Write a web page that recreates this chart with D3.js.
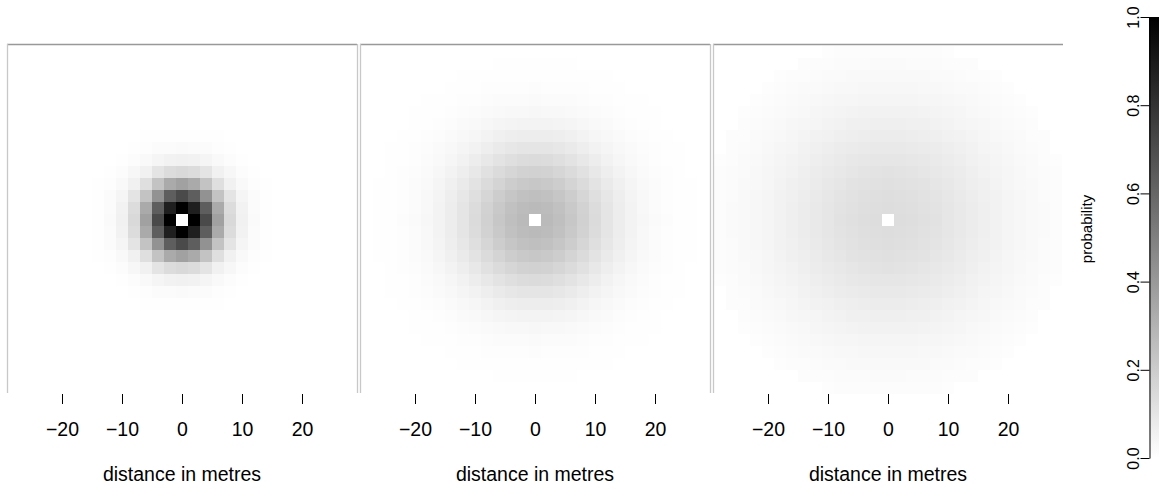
<!DOCTYPE html>
<html>
<head>
<meta charset="utf-8">
<script src="https://cdn.jsdelivr.net/npm/d3@7"></script>
<style>
body { margin:0; background:#fff; }
svg text { font-family: "Liberation Sans", Arial, sans-serif; fill:#000; }
</style>
</head>
<body>
<div id="chart"></div>
<script>
// ring distances (metres) and probability read along the centre row of each panel
var ringDist = [0, 2, 4, 6, 8, 10, 12, 14, 16, 18, 20, 22, 24, 26, 28, 30];
var probNarrow = [1.0, 1.0, 0.71, 0.37, 0.15, 0.055, 0.018, 0.005, 0.001, 0, 0, 0, 0, 0, 0, 0];
var probMid = [0.28, 0.272, 0.251, 0.218, 0.18, 0.14, 0.103, 0.072, 0.048, 0.03, 0.018, 0.01, 0.005, 0.0026, 0.0012, 0.0005];
var probWide = [0.135, 0.133, 0.129, 0.121, 0.112, 0.1, 0.088, 0.076, 0.063, 0.052, 0.041, 0.032, 0.025, 0.018, 0.013, 0.009];
var cellCentres = [-28,-26,-24,-22,-20,-18,-16,-14,-12,-10,-8,-6,-4,-2,0,2,4,6,8,10,12,14,16,18,20,22,24,26,28];
var xTicks = [-20, -10, 0, 10, 20];
var legendTicks = [0, 0.2, 0.4, 0.6, 0.8, 1.0];
var cellSize = 2;
var maskRadius = 30;

var w = 1159, h = 489;
var panelW = 350;
var panelLefts = [7, 360, 713];
var panelTop = 45, panelBottom = 395;
var profiles = [probNarrow, probMid, probWide];

var svg = d3.select("#chart").append("svg")
  .attr("width", w)
  .attr("height", h);

var grey = d3.scaleLinear().domain([0, 1]).range(["#ffffff", "#000000"]).clamp(true);
var half = panelW / 12; // metres either side of the centre

profiles.forEach(function(prof, k) {
  var x0 = panelLefts[k];
  var xScale = d3.scaleLinear().domain([-half, half]).range([x0, x0 + panelW]);
  var yScale = d3.scaleLinear().domain([half, -half]).range([panelTop, panelBottom]);
  var ring = d3.scaleLinear().domain(ringDist).range(prof).clamp(true);

  var cells = [];
  cellCentres.forEach(function(cx) {
    cellCentres.forEach(function(cy) {
      var d = Math.sqrt(cx * cx + cy * cy);
      if (d > maskRadius) return;
      cells.push({x: cx, y: cy, p: d === 0 ? null : ring(d)});
    });
  });

  var cw = xScale(cellSize) - xScale(0);
  var g = svg.append("g");
  g.selectAll("rect")
    .data(cells)
    .enter()
    .append("rect")
    .attr("x", function(d) { return xScale(d.x - cellSize / 2); })
    .attr("y", function(d) { return yScale(d.y + cellSize / 2); })
    .attr("width", cw)
    .attr("height", cw)
    .attr("fill", function(d) { return d.p === null ? "#ffffff" : grey(d.p); })
    .attr("shape-rendering", "crispEdges");

  // frame bits
  g.append("line")
    .attr("x1", x0).attr("x2", x0 + panelW)
    .attr("y1", 44.5).attr("y2", 44.5)
    .attr("stroke", "#999").attr("stroke-width", 1.3);
  g.append("line")
    .attr("x1", x0 + 0.5).attr("x2", x0 + 0.5)
    .attr("y1", 44).attr("y2", 393)
    .attr("stroke", "#c8c8c8").attr("stroke-width", 1.3);
  if (k < 2) {
    g.append("line")
      .attr("x1", x0 + panelW + 0.5).attr("x2", x0 + panelW + 0.5)
      .attr("y1", 44).attr("y2", 393)
      .attr("stroke", "#c8c8c8").attr("stroke-width", 1.3);
  }

  var xAxis = d3.axisBottom(xScale)
    .tickValues(xTicks)
    .tickSize(10)
    .tickPadding(18)
    .tickFormat(function(v) { return v < 0 ? "\u2212" + Math.abs(v) : v; });
  var ax = svg.append("g")
    .attr("transform", "translate(0," + 394 + ")")
    .call(xAxis);
  ax.select(".domain").remove();
  ax.selectAll("line").attr("stroke", "#000");
  ax.selectAll("text").attr("font-size", 19.5).attr("font-family", "Liberation Sans, Arial, sans-serif");

  svg.append("text")
    .text("distance in metres")
    .attr("x", xScale(0))
    .attr("y", 481)
    .attr("text-anchor", "middle")
    .attr("font-size", 19.5);
});

// colour legend
var defs = svg.append("defs");
var grad = defs.append("linearGradient")
  .attr("id", "bar")
  .attr("x1", 0).attr("x2", 0).attr("y1", 1).attr("y2", 0);
grad.append("stop").attr("offset", 0).attr("stop-color", grey(0));
grad.append("stop").attr("offset", 1).attr("stop-color", grey(1));

var legScale = d3.scaleLinear().domain([0, 1]).range([458, 17]);
svg.append("rect")
  .attr("x", 1149)
  .attr("y", legScale(1))
  .attr("width", 14)
  .attr("height", legScale(0) - legScale(1))
  .attr("fill", "url(#bar)");

var legAxis = d3.axisLeft(legScale)
  .tickValues(legendTicks)
  .tickSize(9)
  .tickSizeOuter(0)
  .tickFormat(d3.format(".1f"));
var la = svg.append("g")
  .attr("transform", "translate(1149.5,0)")
  .call(legAxis);
la.select(".domain").attr("stroke", "#000");
la.selectAll("line").attr("stroke", "#000");
la.selectAll(".tick text")
  .attr("font-size", 16)
  .attr("font-family", "Liberation Sans, Arial, sans-serif")
  .attr("x", 0)
  .attr("y", 0)
  .attr("dy", 0)
  .attr("text-anchor", "middle")
  .attr("transform", "translate(-11,0) rotate(-90)");

svg.append("text")
  .text("probability")
  .attr("transform", "translate(1092,229) rotate(-90)")
  .attr("text-anchor", "middle")
  .attr("font-size", 15);
</script>
</body>
</html>
